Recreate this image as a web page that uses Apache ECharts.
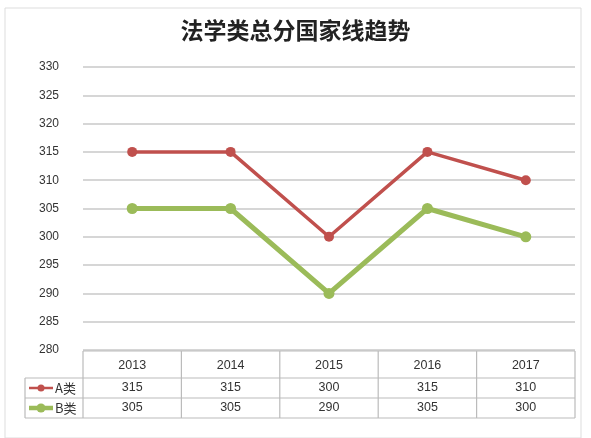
<!DOCTYPE html>
<html>
<head>
<meta charset="UTF-8">
<script src="https://cdn.jsdelivr.net/npm/echarts@6/dist/echarts.min.js"></script>
<style>
  html, body { margin: 0; padding: 0; background: #fff; }
  #main { width: 591px; height: 438px; }
</style>
</head>
<body>
<div id="main"></div>
<script>
  var years = ['2013', '2014', '2015', '2016', '2017'];
  var seriesA = [315, 315, 300, 315, 310];
  var seriesB = [305, 305, 290, 305, 300];
  var names = ['A类', 'B类'];
  var colors = ['#c0504d', '#9bbb59'];

  var chart = echarts.init(document.getElementById('main'));
  var gridLeft = 83, gridRight = 16, gridTop = 67, gridBottom = 88;

  chart.setOption({
    animation: false,
    title: {
      text: '法学类总分国家线趋势', left: 'center', top: 14,
      textStyle: { fontFamily: 'Noto Sans CJK SC', fontWeight: 'bold', fontSize: 23, color: '#222' }
    },
    grid: { left: gridLeft, right: gridRight, top: gridTop, bottom: gridBottom },
    xAxis: {
      type: 'category', data: years, boundaryGap: true,
      axisLabel: { show: false }, axisTick: { show: false },
      axisLine: { show: false },
      splitLine: { show: false }
    },
    yAxis: {
      type: 'value', min: 280, max: 330, interval: 5,
      axisLine: { show: false }, axisTick: { show: false },
      axisLabel: { color: '#333', fontSize: 12, margin: 24, fontFamily: 'Liberation Sans' },
      splitLine: { lineStyle: { color: '#c8c8c8', width: 1.5 } }
    },
    series: [
      { name: names[0], type: 'line', data: seriesA, symbol: 'circle', symbolSize: 10,
        lineStyle: { color: colors[0], width: 3.5 }, itemStyle: { color: colors[0] } },
      { name: names[1], type: 'line', data: seriesB, symbol: 'circle', symbolSize: 11,
        lineStyle: { color: colors[1], width: 5 }, itemStyle: { color: colors[1] } }
    ]
  });

  // data table under the plot
  var rowY = [351, 378, 398, 418];
  var tableLeft = 25;
  var bandW = (591 - gridLeft - gridRight) / years.length;
  var els = [];
  var line = function (x1, y1, x2, y2) {
    els.push({ type: 'line', shape: { x1: x1, y1: y1, x2: x2, y2: y2 }, style: { stroke: '#bbb', lineWidth: 1.2 } });
  };
  var txt = function (x, y, s) {
    els.push({ type: 'text', x: x, y: y, style: { text: s, fill: '#333', fontSize: 12.5, fontFamily: 'Liberation Sans',
      align: 'center', verticalAlign: 'middle' } });
  };
  var right = 591 - gridRight;
  line(gridLeft, rowY[0], right, rowY[0]);
  line(tableLeft, rowY[1], right, rowY[1]);
  line(tableLeft, rowY[2], right, rowY[2]);
  line(tableLeft, rowY[3], right, rowY[3]);
  line(tableLeft, rowY[1], tableLeft, rowY[3]);
  for (var i = 0; i <= years.length; i++) {
    var x = gridLeft + i * bandW;
    line(x, rowY[0], x, rowY[3]);
  }
  years.forEach(function (y, i) {
    var cx = chart.convertToPixel({ xAxisIndex: 0 }, y);
    txt(cx, (rowY[0] + rowY[1]) / 2 + 1, y);
    txt(cx, (rowY[1] + rowY[2]) / 2, String(seriesA[i]));
    txt(cx, (rowY[2] + rowY[3]) / 2, String(seriesB[i]));
  });
  [seriesA, seriesB].forEach(function (s, r) {
    var cy = (rowY[r + 1] + rowY[r + 2]) / 2;
    els.push({ type: 'line', shape: { x1: 29, y1: cy, x2: 53, y2: cy }, style: { stroke: colors[r], lineWidth: r ? 4.5 : 2.5 } });
    els.push({ type: 'circle', shape: { cx: 41, cy: cy, r: r ? 4.5 : 3.5 }, style: { fill: colors[r] } });
    els.push({ type: 'text', x: 55, y: cy, style: { text: names[r], fill: '#333', fontSize: 13,
      fontFamily: 'Noto Sans CJK SC', verticalAlign: 'middle' } });
  });
  els.push({ type: 'rect', shape: { x: 5, y: 8, width: 576, height: 430 }, style: { fill: 'none', stroke: '#ddd' } });
  chart.setOption({ graphic: els });
</script>
</body>
</html>
